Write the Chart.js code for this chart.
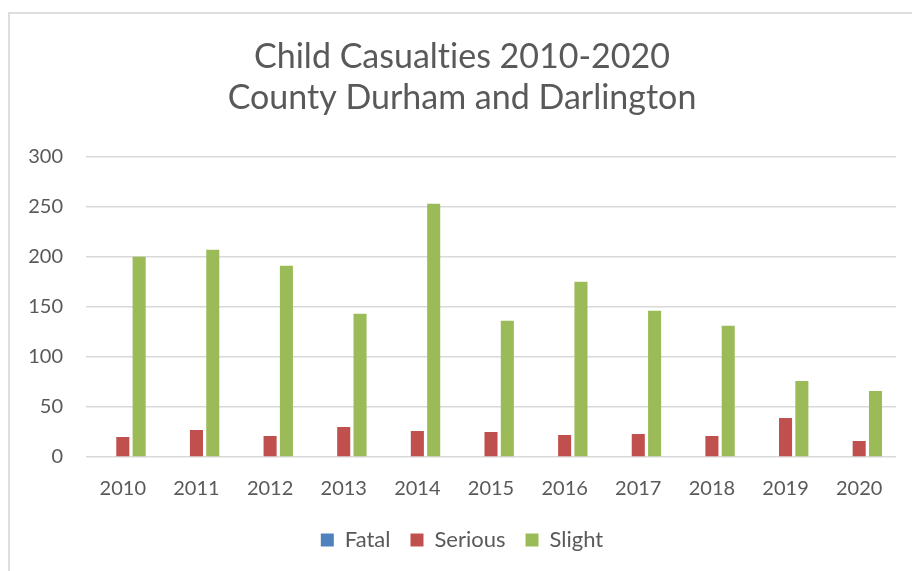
<!DOCTYPE html>
<html lang="en">
<head>
  <meta charset="UTF-8">
  <title>Child Casualties 2010-2020</title>
  <script src="https://cdn.jsdelivr.net/npm/chart.js"></script>
  <style>
    body { margin: 0; background: #fff; }
    #wrap { position: relative; width: 912px; height: 571px; overflow: hidden; }
    #frame { position: absolute; left: 8px; top: 12px; width: 1000px; height: 1000px; border: 2px solid #dedede; }
    #chart { position: absolute; left: 0; top: 0; }
  </style>
</head>
<body>
  <div id="wrap">
    <div id="frame"></div>
    <canvas id="chart" width="912" height="571"></canvas>
  </div>
  <script>
    var years = ['2010', '2011', '2012', '2013', '2014', '2015', '2016', '2017', '2018', '2019', '2020'];
    var fatal = [0, 0, 0, 0, 0, 0, 0, 0, 0, 0, 0];
    var serious = [20, 27, 21, 30, 26, 25, 22, 23, 21, 39, 16];
    var slight = [200, 207, 191, 143, 253, 136, 175, 146, 131, 76, 66];
    var yTicks = [0, 50, 100, 150, 200, 250, 300];

    var grey = '#595959';
    Chart.defaults.font.family = 'Lato, "Open Sans", sans-serif';
    Chart.defaults.color = grey;

    // no "ti" ligature, like the original
    var noLigatures = {
      id: 'noLigatures',
      beforeDraw: function (chart) { chart.ctx.textRendering = 'optimizeSpeed'; }
    };

    new Chart(document.getElementById('chart'), {
      type: 'bar',
      data: {
        labels: years,
        datasets: [
          { label: 'Fatal', data: fatal, backgroundColor: '#4F81BD' },
          { label: 'Serious', data: serious, backgroundColor: '#C0504D' },
          { label: 'Slight', data: slight, backgroundColor: '#9BBB59' }
        ]
      },
      plugins: [noLigatures],
      options: {
        responsive: false,
        animation: false,
        categoryPercentage: 0.665,
        barPercentage: 0.8,
        layout: { padding: { left: 28, right: 16, top: 0, bottom: 10 } },
        plugins: {
          title: {
            display: true,
            text: ['Child Casualties 2010-2020', 'County Durham and Darlington'],
            font: { size: 34, weight: 'normal', lineHeight: 1.2 },
            color: grey,
            padding: { top: 37, bottom: 38 }
          },
          legend: {
            position: 'bottom',
            labels: {
              boxWidth: 13,
              boxHeight: 13,
              padding: 20,
              font: { size: 22 },
              color: grey
            }
          },
          tooltip: { enabled: false }
        },
        scales: {
          x: {
            grid: { display: false },
            border: { display: false },
            ticks: { font: { size: 20 }, color: grey, padding: 12 },
            afterFit: function (axis) { axis.height -= 4; }
          },
          y: {
            min: 0,
            max: 300,
            afterBuildTicks: function (axis) {
              axis.ticks = yTicks.map(function (v) { return { value: v }; });
            },
            afterFit: function (axis) { axis.width = 58; },
            grid: { color: '#d9d9d9', lineWidth: 1.5, drawTicks: false },
            border: { display: false },
            ticks: { font: { size: 20 }, color: grey, padding: 23 }
          }
        }
      }
    });
  </script>
</body>
</html>
